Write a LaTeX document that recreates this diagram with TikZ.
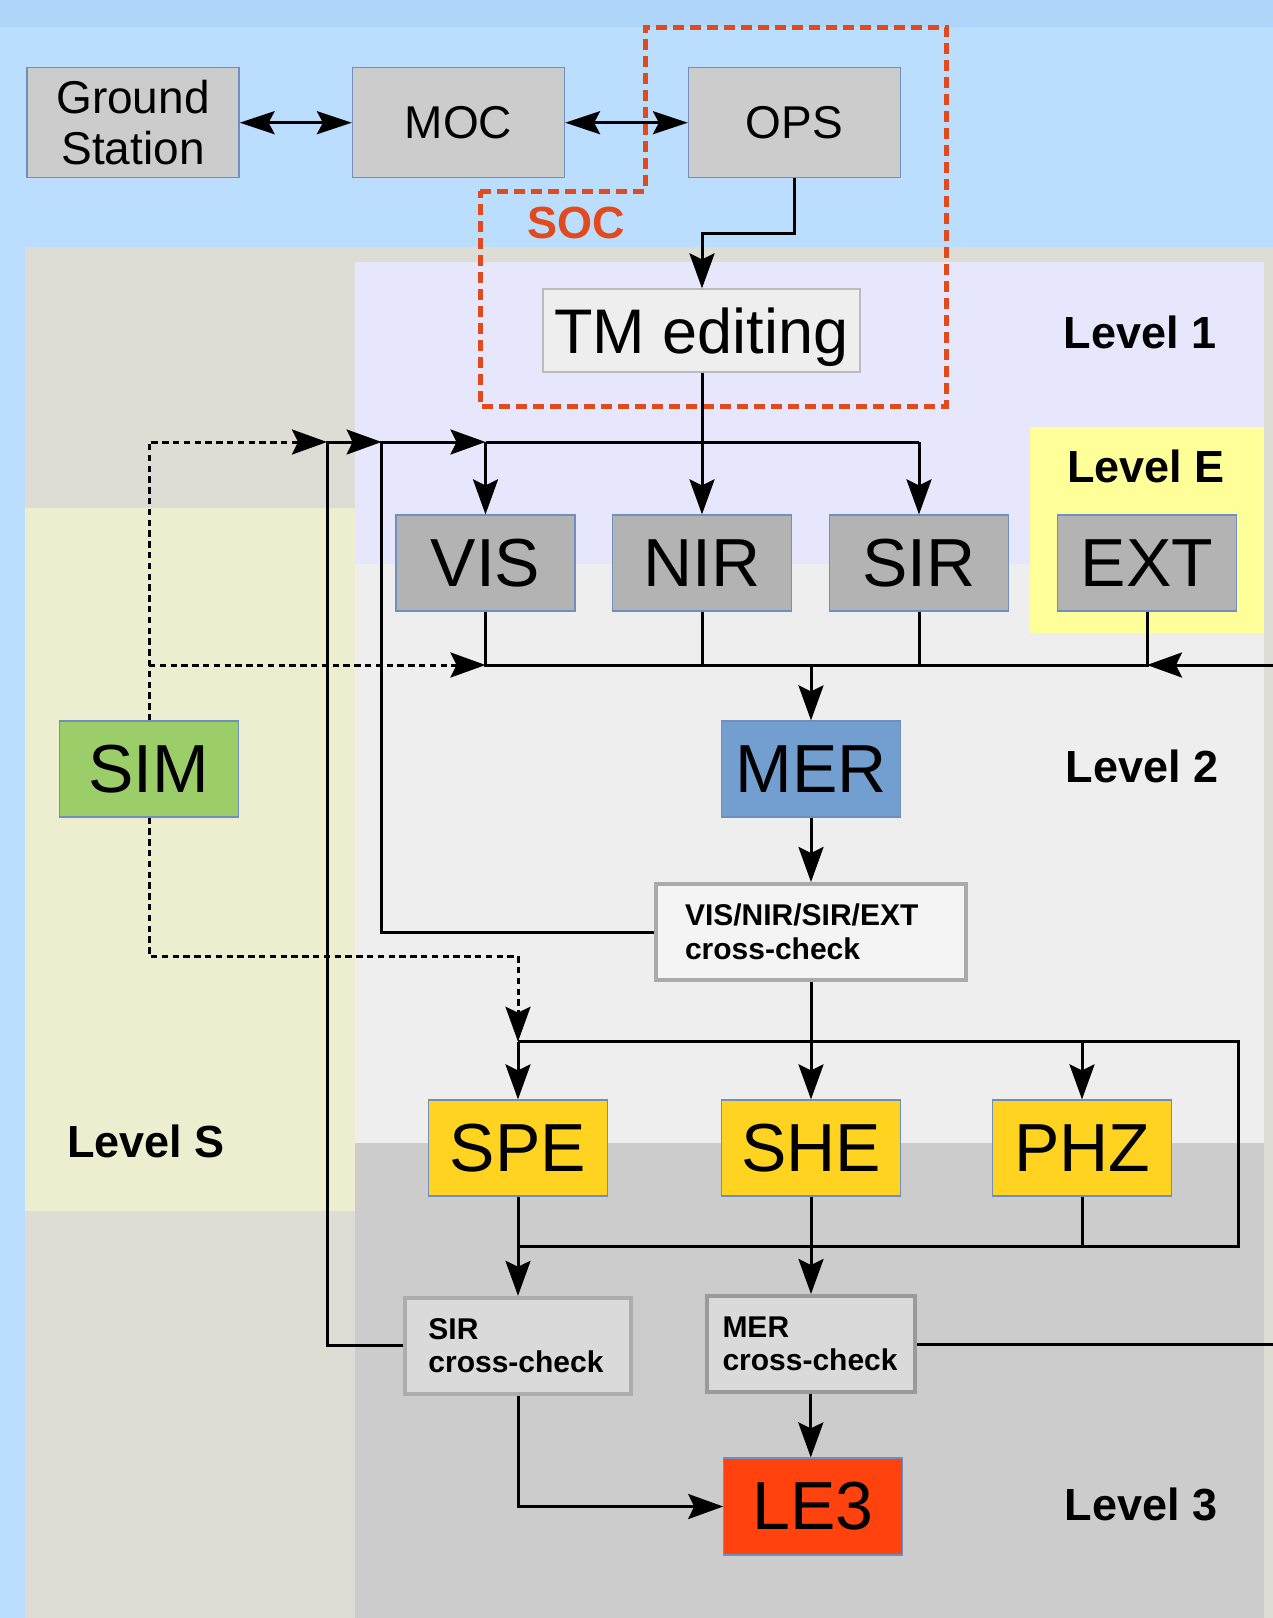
\documentclass[tikz,border=0pt]{standalone}
\usepackage{fontspec}
\setmainfont{Liberation Sans}
\usetikzlibrary{arrows.meta,calc}

\definecolor{skyband}{HTML}{AFD5FA}
\definecolor{sky}{HTML}{BBDEFF}
\definecolor{stone}{HTML}{DDDDD5}
\definecolor{levelone}{HTML}{E6E6FC}
\definecolor{leveltwo}{HTML}{EEEEEE}
\definecolor{levelthree}{HTML}{CCCCCC}
\definecolor{levelscol}{HTML}{EDEDD0}
\definecolor{levelecol}{HTML}{FFFF99}
\definecolor{socred}{HTML}{E2491C}
\definecolor{edgeblue}{HTML}{6F8FBE}
\definecolor{opsgrey}{HTML}{CCCCCC}
\definecolor{instgrey}{HTML}{B3B3B3}
\definecolor{simgreen}{HTML}{9BCD69}
\definecolor{merblue}{HTML}{729FCF}
\definecolor{sdcyellow}{HTML}{FFD320}
\definecolor{lethree}{HTML}{FF420E}
\definecolor{tmfill}{HTML}{EEEEEE}
\definecolor{tmedge}{HTML}{BBBBBB}
\definecolor{checkfill}{HTML}{F4F4F4}
\definecolor{checkedge}{HTML}{AAAAAA}
\definecolor{checkfillb}{HTML}{DADADA}
\definecolor{checkedgeb}{HTML}{ADADAD}
\definecolor{checkedgec}{HTML}{9A9A9A}

\begin{document}
\begin{tikzpicture}[x=0.5pt,y=-0.5pt,
  conn/.style={line width=1.5pt, black},
  tip/.style={-{Stealth[length=17.5pt,width=12.5pt,inset=3pt]}},
  bothtips/.style={{Stealth[length=17.5pt,width=11.5pt,inset=3pt]}-{Stealth[length=17.5pt,width=11.5pt,inset=3pt]}},
  simlink/.style={conn, dash pattern=on 3.2pt off 2.2pt},
  box/.style={draw=edgeblue, line width=0.6pt, inner sep=0pt, align=center},
  topbox/.style={box, fill=opsgrey, minimum width=106pt, minimum height=55pt,
    font=\fontsize{23}{25.5}\selectfont},
  instbox/.style={box, minimum width=89.5pt, minimum height=48pt,
    font=\fontsize{34}{36}\selectfont},
  checkbox/.style={line width=2pt, inner ysep=0pt, minimum height=48pt, align=left,
    font=\bfseries\fontsize{15}{16.75}\selectfont},
  levellabel/.style={anchor=base, font=\bfseries\fontsize{22.5}{24}\selectfont}
]
% page and background bands
\useasboundingbox (0,0) rectangle (1273,1618);
\fill[skyband] (0,0) rectangle (1273,27);
\fill[sky] (0,27) rectangle (1273,1618);
\fill[stone] (24.5,247) rectangle (1273,1618);
\fill[levelone] (355,262) rectangle (1264,564);
\fill[leveltwo] (355,564) rectangle (1264,1143);
\fill[levelthree] (355,1143) rectangle (1264,1618);
\fill[levelscol] (24.5,508) rectangle (355,1211);
\fill[levelecol] (1030,427) rectangle (1264,633);

% level captions
\node[levellabel] (l1) at (1140,348) {Level 1};
\node[levellabel] (le) at (1146,482) {Level E};
\node[levellabel] (l2) at (1142,782) {Level 2};
\node[levellabel] (ls) at (146,1157) {Level S};
\node[levellabel] (l3) at (1141,1520) {Level 3};

% SOC boundary
\draw[socred, line width=2.5pt, dash pattern=on 5.5pt off 3pt]
  (480,191) -- (645,191) -- (645,27) -- (946,27) -- (946,406) -- (480,406) -- cycle;
\node[anchor=base, text=socred, font=\bfseries\fontsize{22.5}{24}\selectfont] (soc) at (576,238) {SOC};

% nodes
\node[topbox] (gs) at (133,122.7) {Ground\\Station};
\node[topbox] (moc) at (458.5,122.7) {MOC};
\node[topbox] (ops) at (794.5,122.7) {OPS};
\node[box, fill=tmfill, draw=tmedge, minimum width=158.5pt, minimum height=41.5pt,
  text depth=0pt, font=\fontsize{31.5}{33}\selectfont] (tm) at (701.5,330.5) {TM editing};

\node[instbox, fill=instgrey] (vis) at (485.5,563) {VIS};
\node[instbox, fill=instgrey] (nir) at (702,563) {NIR};
\node[instbox, fill=instgrey] (sir) at (919,563) {SIR};
\node[instbox, fill=instgrey] (ext) at (1147,563) {EXT};
\node[instbox, fill=simgreen] (sim) at (149,769) {SIM};
\node[instbox, fill=merblue] (mer) at (811,769) {MER};

\node[checkbox, draw=checkedge, fill=checkfill, text width=126pt, inner xsep=14.5pt]
  (xc) at (811,932) {VIS/NIR/SIR/EXT\\\mbox{cross-check}};

\node[instbox, fill=sdcyellow] (spe) at (518,1148) {SPE};
\node[instbox, fill=sdcyellow] (she) at (811,1148) {SHE};
\node[instbox, fill=sdcyellow] (phz) at (1082,1148) {PHZ};

\node[checkbox, draw=checkedgeb, fill=checkfillb, text width=89.8pt, inner xsep=11.5pt]
  (sircc) at (518.2,1345.8) {SIR\\\mbox{cross-check}};
\node[checkbox, draw=checkedgec, fill=checkfillb, text width=88.3pt, inner xsep=8pt]
  (mercc) at (810.8,1344) {MER\\\mbox{cross-check}};

\node[instbox, fill=lethree, minimum height=48.5pt] (le3) at (813.3,1506.5) {LE3};

% bus levels and bends
\coordinate (bus1) at (0,442);
\coordinate (bus2) at (0,665);
\coordinate (bus3) at (0,1041.7);
\coordinate (bus4) at (0,1246);
\coordinate (opsturn) at (702,233);
\coordinate (simbend) at (0,956);
\coordinate (loopa) at (381.6,442);
\coordinate (loopb) at (327,442);
\coordinate (rtop) at (1238.3,1041.7);
\coordinate (rbot) at (1238.3,1246);
\coordinate (rin) at (1273,665);
\coordinate (rout) at (1273,1344);

% ground segment links
\draw[conn, bothtips] (gs.east) -- (moc.west);
\draw[conn, bothtips] (moc.east) -- (ops.west);
\draw[conn, tip] (ops.south) |- (opsturn) -- (opsturn |- tm.north);
\draw[conn, tip] (tm.south -| nir.north) -- (nir.north);

% level 1 distribution
\draw[conn] (vis.north |- bus1) -- (sir.north |- bus1);
\draw[conn, tip] (vis.north |- bus1) -- (vis.north);
\draw[conn, tip] (sir.north |- bus1) -- (sir.north);

% feedback loops from the cross-checks
\draw[conn, tip] (xc.west) -| (loopa) -- (vis.north |- bus1);
\draw[conn, tip] (sircc.west) -| (loopb) -- (loopa);

% simulation inputs
\draw[simlink, tip] (sim.north) |- (loopb);
\draw[simlink, tip] (sim.north |- bus2) -- (vis.south |- bus2);
\draw[simlink, tip] (sim.south) |- (spe.north |- simbend) -- (spe.north |- bus3);

% level 2 collection into MER
\draw[conn] (vis.south) -- (vis.south |- bus2) -- (ext.south |- bus2) -- (ext.south);
\draw[conn] (nir.south) -- (nir.south |- bus2);
\draw[conn] (sir.south) -- (sir.south |- bus2);
\draw[conn, tip] (rin) -- (ext.south |- bus2);
\draw[conn, tip] (mer.north |- bus2) -- (mer.north);
\draw[conn, tip] (mer.south) -- (xc.north);

% level 3 processing
\draw[conn, tip] (xc.south) -- (she.north);
\draw[conn] (spe.north |- bus3) -- (rtop) -- (rbot) -- (spe.south |- bus4);
\draw[conn, tip] (spe.north |- bus3) -- (spe.north);
\draw[conn, tip] (phz.north |- bus3) -- (phz.north);
\draw[conn, tip] (spe.south) -- (sircc.north -| spe.south);
\draw[conn, tip] (she.south) -- (mercc.north -| she.south);
\draw[conn] (phz.south) -- (phz.south |- bus4);
\draw[conn] (mercc.east) -- (rout);
\draw[conn, tip] (mercc.south) -- (mercc.south |- le3.north);
\draw[conn, tip] (sircc.south) |- (le3.west);
\end{tikzpicture}
\end{document}
